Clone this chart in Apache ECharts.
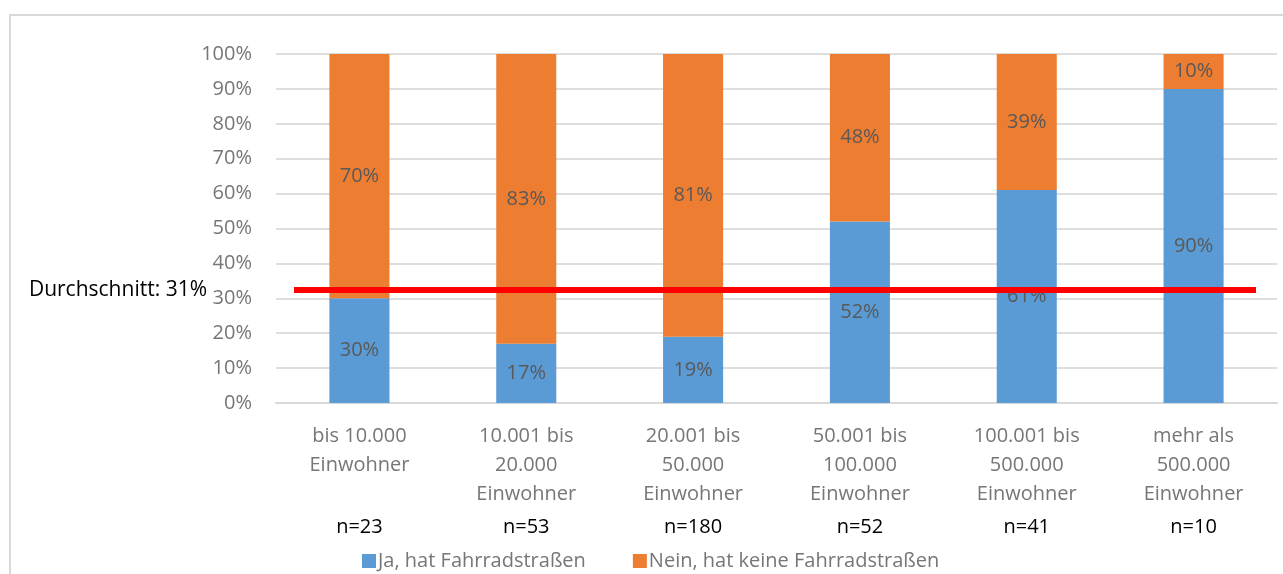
<!DOCTYPE html>
<html>
<head>
<meta charset="utf-8">
<script src="https://cdn.jsdelivr.net/npm/echarts@6/dist/echarts.min.js"></script>
<style>
  html, body { margin: 0; padding: 0; background: #fff; }
  #chart { width: 1283px; height: 574px; }
</style>
</head>
<body>
<div id="chart"></div>
<script>
// Daten
var categories = [
  "bis 10.000\nEinwohner",
  "10.001 bis\n20.000\nEinwohner",
  "20.001 bis\n50.000\nEinwohner",
  "50.001 bis\n100.000\nEinwohner",
  "100.001 bis\n500.000\nEinwohner",
  "mehr als\n500.000\nEinwohner"
];
var sampleSizes = ["n=23", "n=53", "n=180", "n=52", "n=41", "n=10"];
var jaValues = [30, 17, 19, 52, 61, 90];
var neinValues = [70, 83, 81, 48, 39, 10];
var averageLine = 32.4;
var averageLabel = "Durchschnitt: 31%";

var font = "Open Sans";
var grayText = "#767676";

var myChart = echarts.init(document.getElementById("chart"));
myChart.setOption({
  animation: false,
  textStyle: { fontFamily: font },
  graphic: [{
    type: "rect",
    shape: { x: 10, y: 15, width: 1300, height: 600 },
    style: { fill: "none", stroke: "#d9d9d9", lineWidth: 2 },
    silent: true
  }],
  grid: { left: 276, right: 6, top: 54, bottom: 171 },
  legend: {
    data: ["Ja, hat Fahrradstraßen", "Nein, hat keine Fahrradstraßen"],
    left: 357,
    top: 546,
    icon: "rect",
    itemWidth: 14,
    itemHeight: 14,
    itemGap: 47,
    textStyle: { fontSize: 20, color: grayText, fontFamily: font, padding: [0, 0, 0, -3] }
  },
  xAxis: [{
    type: "category",
    data: categories,
    axisLine: { lineStyle: { color: "#d9d9d9", width: 2 } },
    axisTick: { show: false },
    axisLabel: {
      interval: 0,
      margin: 19,
      fontSize: 20,
      lineHeight: 29,
      color: grayText,
      fontFamily: font
    }
  }, {
    type: "category",
    data: sampleSizes,
    position: "bottom",
    axisLine: { show: false },
    axisTick: { show: false },
    axisLabel: {
      interval: 0,
      margin: 110,
      fontSize: 20,
      lineHeight: 29,
      color: "#000",
      fontFamily: font
    }
  }],
  yAxis: {
    type: "value",
    min: 0,
    max: 100,
    interval: 10,
    axisLine: { show: false },
    axisTick: { show: false },
    axisLabel: { formatter: "{value}%", fontSize: 20, color: grayText, margin: 24, fontFamily: font },
    splitLine: { lineStyle: { color: "#dedede", width: 2 } }
  },
  series: [
    {
      name: "Ja, hat Fahrradstraßen",
      type: "bar",
      stack: "gesamt",
      barWidth: "36%",
      itemStyle: { color: "#5B9BD5" },
      label: { show: true, position: "inside", formatter: "{c}%", fontSize: 20, color: "#595959", fontFamily: font },
      data: jaValues
    },
    {
      name: "Nein, hat keine Fahrradstraßen",
      type: "bar",
      stack: "gesamt",
      barWidth: "36%",
      itemStyle: { color: "#ED7D31" },
      label: { show: true, position: "inside", formatter: "{c}%", fontSize: 20, color: "#595959", fontFamily: font },
      data: neinValues
    }
  ]
});

// Durchschnittslinie: Höhe über die y-Achse, waagrecht etwas kürzer als das Diagramm
var lineY = myChart.convertToPixel({ yAxisIndex: 0 }, averageLine);
myChart.setOption({
  series: [{}, {}, {
    name: "Durchschnitt",
    type: "line",
    z: 10,
    data: [],
    markLine: {
      silent: true,
      symbol: "none",
      lineStyle: { color: "#ff0000", width: 6, type: "solid" },
      label: {
        show: true,
        position: "start",
        distance: 87,
        formatter: averageLabel,
        fontSize: 21,
        color: "#000",
        fontFamily: font
      },
      data: [[{ x: 294, y: lineY }, { x: 1256, y: lineY }]]
    }
  }]
});
</script>
</body>
</html>
